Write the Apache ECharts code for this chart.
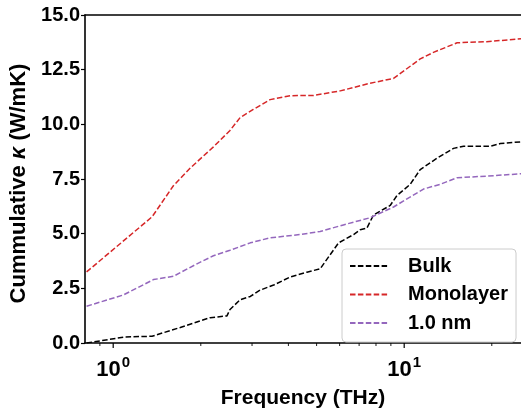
<!DOCTYPE html>
<html>
<head>
<meta charset="utf-8">
<script src="https://cdn.jsdelivr.net/npm/echarts@6/dist/echarts.min.js"></script>
<style>
  html, body { margin: 0; padding: 0; background: #fff; }
  #chart { width: 521px; height: 414px; }
</style>
</head>
<body>
<div id="chart"></div>
<script>
// ---- Data ----
const bulkFreq = [0.81, 1.085, 1.36, 1.70, 2.155, 2.46, 2.52, 2.73, 2.96, 3.2, 3.56, 4.06, 4.63, 5.14, 5.95, 6.7, 7.06, 7.44, 7.84, 8.95, 9.44, 10.49, 11.35, 12.96, 14.77, 16.0, 19.75, 21.4, 25.2];
const bulkK    = [0.0, 0.27, 0.31, 0.71, 1.16, 1.24, 1.53, 1.98, 2.13, 2.42, 2.65, 3.02, 3.24, 3.39, 4.58, 4.96, 5.18, 5.25, 5.85, 6.29, 6.74, 7.26, 7.93, 8.45, 8.90, 9.0, 9.0, 9.12, 9.2];

const monoFreq = [0.81, 1.36, 1.61, 1.84, 2.21, 2.52, 2.73, 3.03, 3.46, 4.06, 4.88, 6.03, 7.64, 9.19, 11.35, 12.6, 15.2, 19.2, 25.2];
const monoK    = [3.25, 5.77, 7.19, 8.0, 8.97, 9.72, 10.31, 10.68, 11.13, 11.31, 11.32, 11.53, 11.88, 12.1, 12.99, 13.29, 13.73, 13.78, 13.91];

const nmFreq = [0.81, 1.085, 1.375, 1.61, 1.94, 2.21, 2.52, 2.96, 3.46, 4.39, 5.14, 6.18, 7.64, 9.19, 11.65, 13.3, 15.2, 19.2, 25.2];
const nmK    = [1.68, 2.2, 2.9, 3.05, 3.62, 3.99, 4.24, 4.58, 4.81, 4.96, 5.10, 5.40, 5.73, 6.22, 7.04, 7.26, 7.56, 7.63, 7.74];

const seriesNames = ['Bulk', 'Monolayer', '1.0 nm'];
const seriesColors = ['#000000', '#d62728', '#9467bd'];

const yTicks = [0, 2.5, 5, 7.5, 10, 12.5, 15];
const xMajorTicks = [1, 10];
const xMinorTicks = [0.9, 2, 3, 4, 5, 6, 7, 8, 9, 20];
const xMin = 0.8, xMax = 25.2;

const FONT = '"Liberation Sans", Arial, sans-serif';

function pairs(xs, ys) { return xs.map((x, i) => [x, ys[i]]); }

const dash = [5.5, 2.4];

const tickData = xMajorTicks.map(v => [v, 0, 1]).concat(xMinorTicks.map(v => [v, 0, 0]));

const chart = echarts.init(document.getElementById('chart'), null, { renderer: 'canvas' });

const option = {
  animation: false,
  backgroundColor: '#fff',
  textStyle: { fontFamily: FONT },
  grid: { left: 85, right: 0, top: 15, bottom: 63, containLabel: false },
  legend: {
    data: seriesNames,
    orient: 'vertical',
    left: 342,
    top: 249,
    itemWidth: 39,
    itemHeight: 14,
    itemGap: 8.5,
    padding: [7, 8, 9, 7],
    backgroundColor: '#fff',
    borderColor: '#cccccc',
    borderWidth: 1,
    borderRadius: 4,
    itemStyle: { opacity: 0 },
    textStyle: {
      fontFamily: FONT, fontWeight: 'bold', fontSize: 20, color: '#000',
      padding: [0, 0, 0, 14], lineHeight: 20
    }
  },
  xAxis: [{
    type: 'log',
    logBase: 10,
    min: xMin,
    max: xMax,
    name: 'Frequency (THz)',
    nameLocation: 'middle',
    nameGap: 45,
    nameTextStyle: { fontFamily: FONT, fontWeight: 'bold', fontSize: 21, color: '#000' },
    axisLine: { show: true, lineStyle: { color: '#000', width: 1.6 } },
    axisTick: { show: false },
    minorTick: { show: false },
    splitLine: { show: false },
    axisLabel: {
      show: true,
      margin: 12,
      showMinLabel: false,
      showMaxLabel: false,
      formatter: function (v) {
        const e = Math.round(Math.log10(v));
        if (Math.abs(Math.pow(10, e) - v) > 1e-6 * v) return '';
        return '{b|10}{s|' + e + '}';
      },
      rich: {
        b: { fontFamily: FONT, fontWeight: 'bold', fontSize: 22, color: '#000', lineHeight: 26, verticalAlign: 'bottom' },
        s: { fontFamily: FONT, fontWeight: 'bold', fontSize: 15, color: '#000', lineHeight: 26, verticalAlign: 'top', padding: [0, 0, 9, 1] }
      }
    }
  }, {
    type: 'log',
    logBase: 10,
    min: xMin,
    max: xMax,
    position: 'top',
    axisLine: { show: true, lineStyle: { color: '#000', width: 1.6 } },
    axisTick: { show: false },
    axisLabel: { show: false },
    splitLine: { show: false }
  }],
  yAxis: {
    type: 'value',
    min: 0,
    max: 15,
    interval: 2.5,
    name: 'Cummulative {k|κ} (W/mK)',
    nameLocation: 'middle',
    nameGap: 52,
    nameRotate: 90,
    nameTextStyle: {
      fontFamily: FONT, fontWeight: 'bold', fontSize: 22, color: '#000',
      padding: [0, 9, 0, 0],
      rich: { k: { fontFamily: FONT, fontWeight: 'bold', fontStyle: 'italic', fontSize: 22, color: '#000' } }
    },
    axisLine: { show: true, lineStyle: { color: '#000', width: 1.6 } },
    axisTick: { show: true, inside: false, length: 4, lineStyle: { color: '#000', width: 1.2 } },
    splitLine: { show: false },
    axisLabel: {
      margin: 5,
      fontFamily: FONT, fontWeight: 'bold', fontSize: 20, color: '#000',
      formatter: v => v.toFixed(1)
    }
  },
  series: [
    {
      name: seriesNames[0], type: 'line', data: pairs(bulkFreq, bulkK),
      showSymbol: false, symbol: 'none', color: seriesColors[0],
      lineStyle: { color: seriesColors[0], width: 1.5, type: dash }
    },
    {
      name: seriesNames[1], type: 'line', data: pairs(monoFreq, monoK),
      showSymbol: false, symbol: 'none', color: seriesColors[1],
      lineStyle: { color: seriesColors[1], width: 1.5, type: dash }
    },
    {
      name: seriesNames[2], type: 'line', data: pairs(nmFreq, nmK),
      showSymbol: false, symbol: 'none', color: seriesColors[2],
      lineStyle: { color: seriesColors[2], width: 1.5, type: dash }
    },
    {
      name: 'xticks',
      type: 'custom',
      clip: false,
      silent: true,
      z: 5,
      data: tickData,
      encode: { x: 0, y: 1 },
      renderItem: function (params, api) {
        const p = api.coord([api.value(0), api.value(1)]);
        const major = api.value(2) === 1;
        return {
          type: 'line',
          shape: { x1: p[0], y1: p[1], x2: p[0], y2: p[1] + (major ? 5 : 3) },
          style: { stroke: '#000', lineWidth: major ? 1.2 : 0.9 }
        };
      }
    }
  ]
};

chart.setOption(option);
</script>
</body>
</html>
